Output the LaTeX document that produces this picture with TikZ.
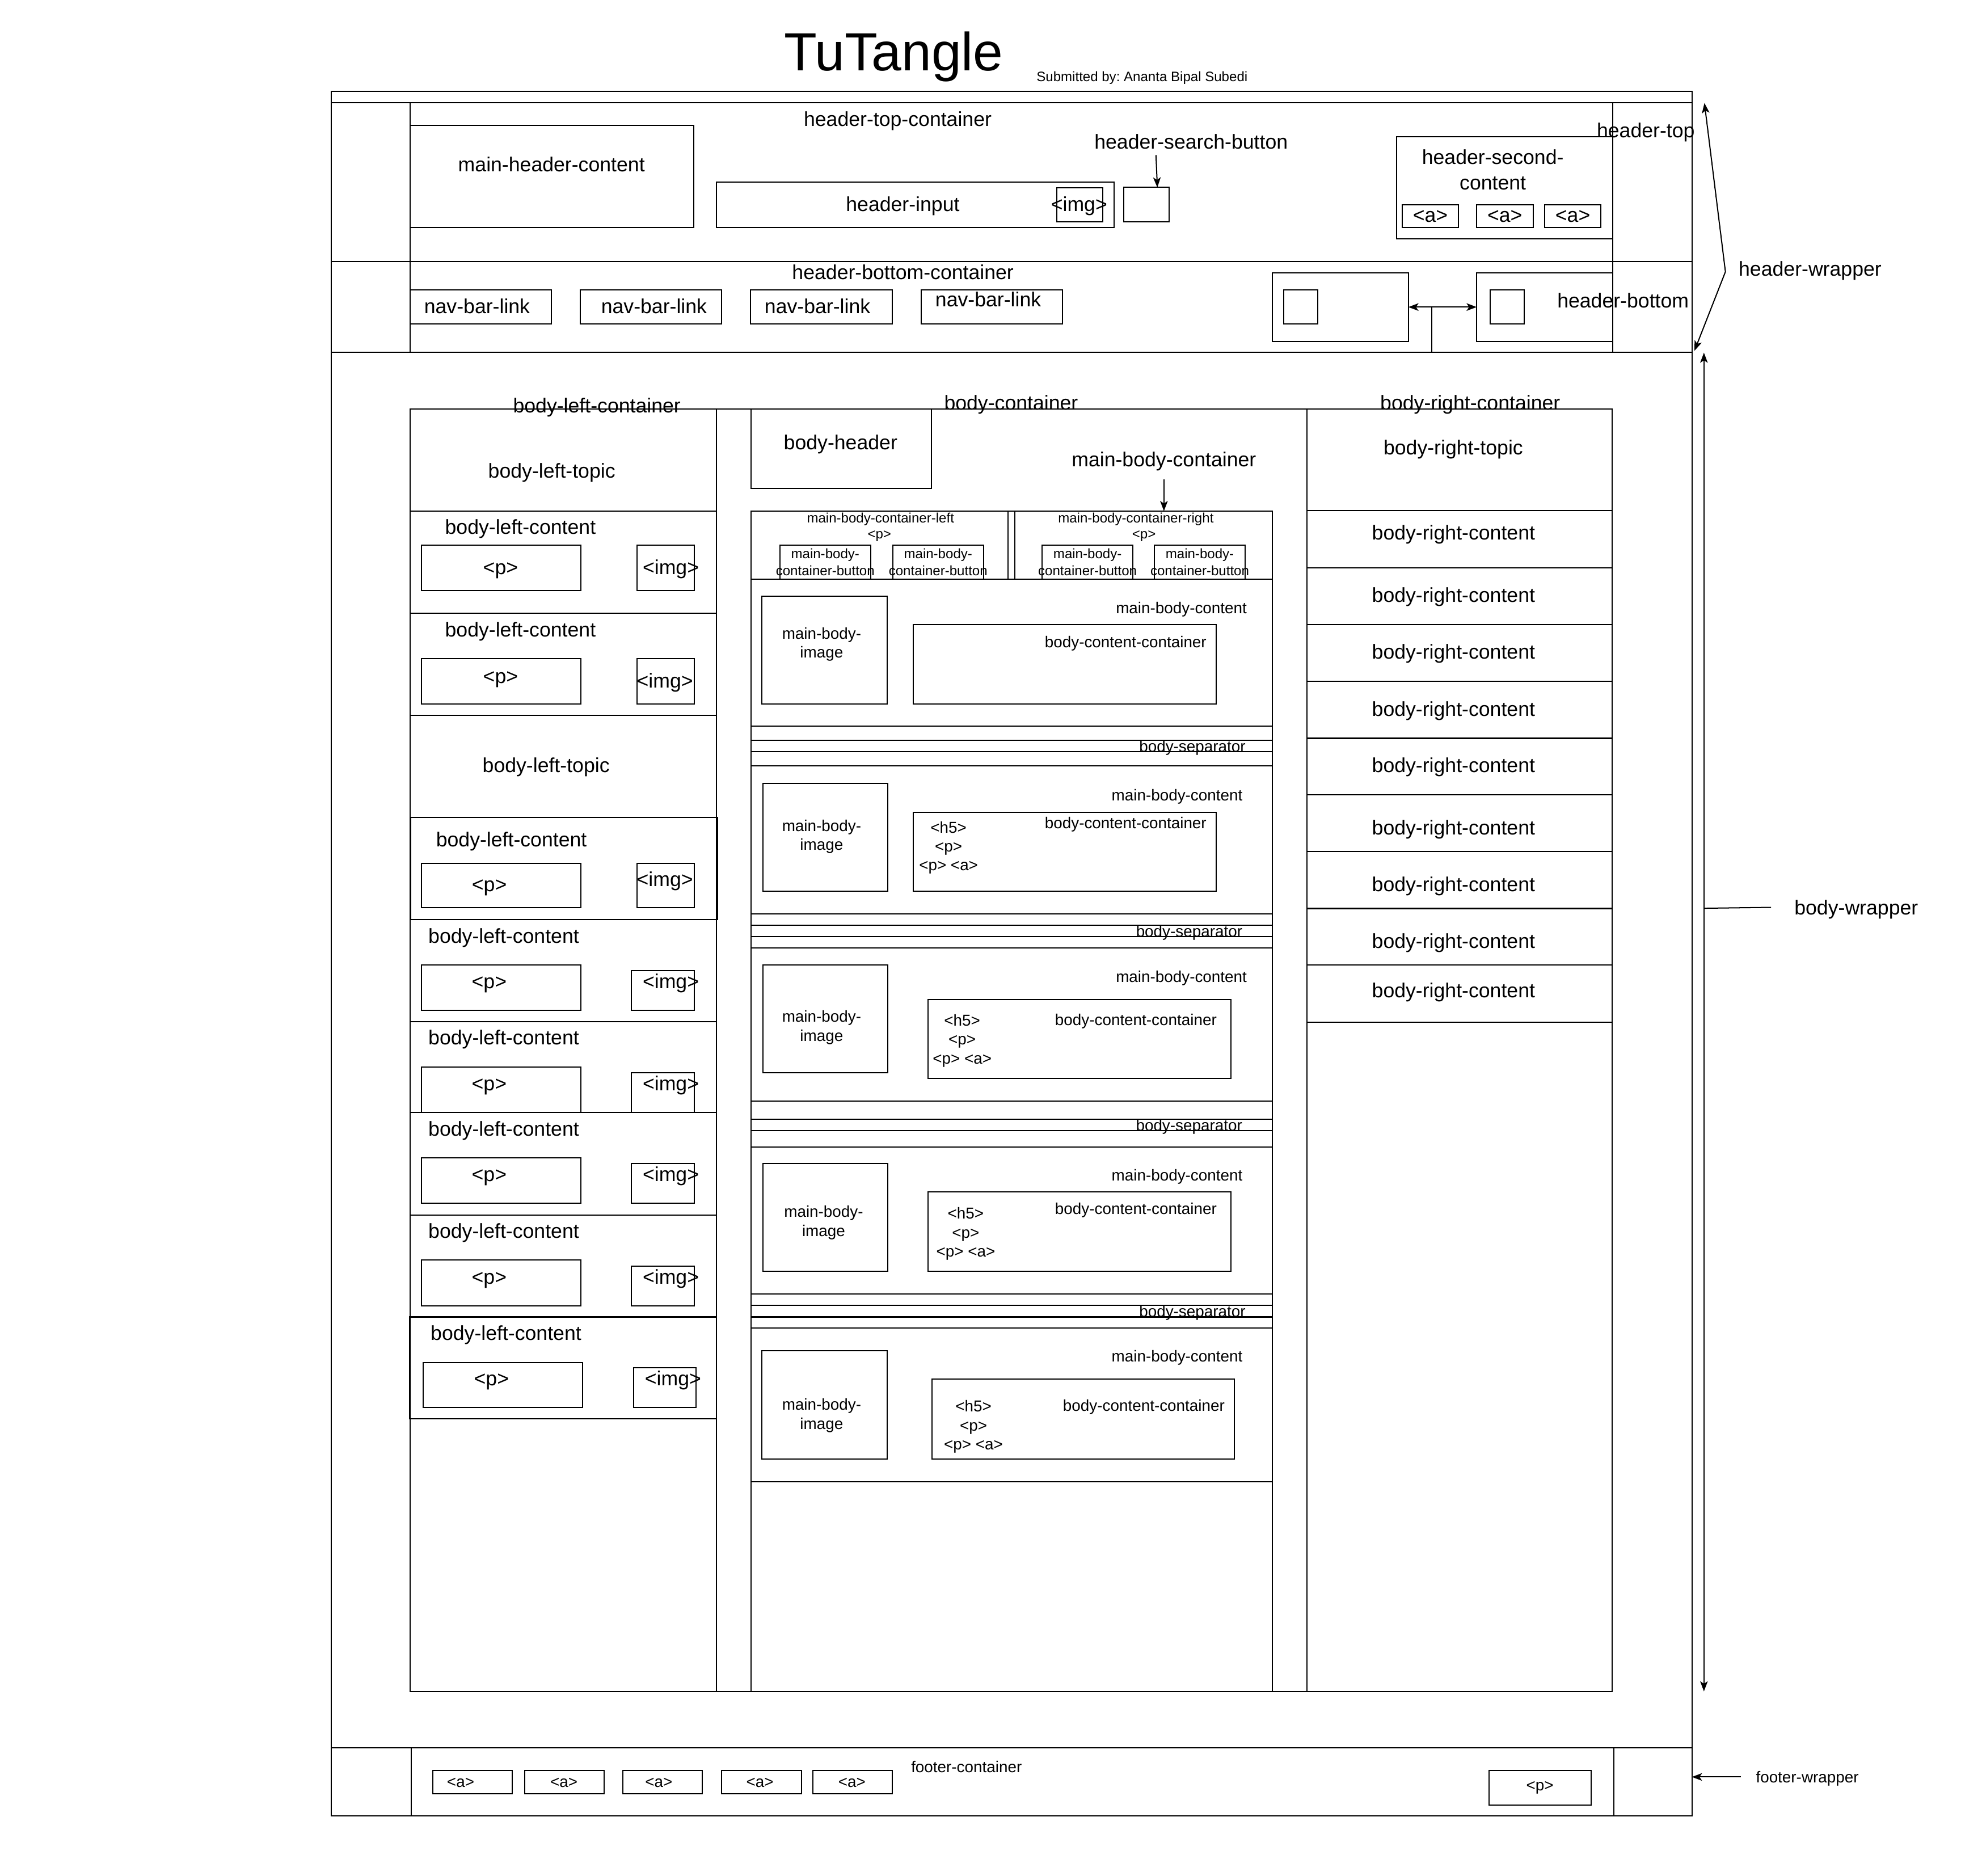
\documentclass[tikz,border=0pt]{standalone}
\usepackage{fontspec}
\setmainfont{Liberation Sans}
\usetikzlibrary{arrows.meta,calc}
\frenchspacing

\begin{document}
\begin{tikzpicture}[x=1pt, y=-1pt, line width=0.9pt,
  box/.style={draw, inner sep=0pt, outer sep=0pt, anchor=north west},
  sz/.style 2 args={minimum width=#1pt, minimum height=#2pt},
  fbig/.style={font=\fontsize{16}{19}\selectfont},
  fmid/.style={font=\fontsize{12.5}{15}\selectfont},
  fsml/.style={font=\fontsize{10.8}{13.5}\selectfont},
  lbig/.style={fbig, inner sep=0pt, text height=14.7pt, text depth=3.4pt},
  lmid/.style={fmid, inner sep=0pt, text height=12.1pt, text depth=2.6pt},
  lsml/.style={fsml, inner sep=0pt, text height=9.9pt, text depth=2.3pt},
  blk/.style={inner sep=0pt, align=center, anchor=north},
  arr/.style={-{Stealth[length=8pt, width=6pt, inset=2pt]}},
  arrs/.style={{Stealth[length=8pt, width=6pt, inset=2pt]}-{Stealth[length=8pt, width=6pt, inset=2pt]}}]
  \useasboundingbox (0,0) rectangle (1568,1484);

  \node[font=\fontsize{42.5}{50}\selectfont, inner sep=0pt, anchor=base] (title) at (707,56) {TuTangle};
  \node[fsml, inner sep=0pt, anchor=base west] (author) at (819.6,64.4) {Submitted by: Ananta Bipal Subedi};

  \node[box, sz={1076.5}{206.5}] (hwrap) at (262,72.1) {};
  \node[box, sz={1076.5}{125.7}] (htop) at (262,81.1) {};
  \node[box, sz={951.5}{125.7}] (htopc) at (324.5,81.1) {};
  \node[lbig] (htopT) at (1302,103) {header-top};
  \node[lbig] (htopcT) at (710.2,94.2) {header-top-container};
  \node[box, sz={224.4}{80.9}] (mhc) at (324.5,99) {};
  \node[lbig] (mhcT) at (436.3,130.2) {main-header-content};
  \node[box, sz={314.3}{36}] (hin) at (566.9,143.9) {};
  \node[lbig] (hinT) at (714.2,161.6) {header-input};
  \node[box, sz={36}{27}] (himg) at (836.2,148.4) {};
  \node[lbig] (himgT) at (853.7,161.6) {<img>};
  \node[box, sz={36.2}{27.2}] (hsb) at (888.8,148.3) {};
  \node[lbig] (hsbT) at (942.3,112.2) {header-search-button};
  \draw[arr] ([xshift=-27.8pt, yshift=-1pt]hsbT.south) -- ([xshift=8.7pt]hsb.north);
  \node[box, sz={171}{81}] (hsc) at (1105,108) {};
  \node[lbig] (hscT1) at (1181,124.2) {header-second-};
  \node[lbig] (hscT2) at (1181,144.5) {content};
  \foreach \x [count=\i] in {1109.2, 1168.1, 1221.9}
    \node[box, sz={44.7}{18}, fbig] (ha\i) at (\x,162) {<a>};

  \node[box, sz={1076.5}{71.7}] (hbot) at (262,206.8) {};
  \node[box, sz={951.5}{71.7}] (hbotc) at (324.5,206.8) {};
  \node[lbig] (hbotcT) at (714.3,215.5) {header-bottom-container};
  \node[lbig] (hbotT) at (1284,238) {header-bottom};
  \foreach \x/\lx/\ly [count=\i] in {324.6/377.4/242.4, 459.2/517.4/242.4, 593.9/646.7/242.4, 728.6/781.8/236.7}{
    \node[box, sz={111.8}{27}] (nav\i) at (\x,229.2) {};
    \node[lbig] (navT\i) at (\lx,\ly) {nav-bar-link};
  }
  \node[box, sz={107.5}{54.2}] (hbl) at (1006.7,215.8) {};
  \node[box, sz={26.9}{27.2}] (hbli) at (1015.5,229.1) {};
  \node[box, sz={107.8}{54.2}] (hbr) at (1168.2,215.8) {};
  \node[box, sz={27}{27.2}] (hbri) at (1179,229.1) {};
  \draw[arrs] (hbl.east) -- (hbr.west);
  \coordinate (hbj) at ($(hbl.east)!0.34!(hbr.west)$);
  \draw (hbj) -- (hbj |- hbot.south);

  \node[lbig] (hwrapT) at (1432,212.5) {header-wrapper};
  \coordinate (hwv) at (1365,215);
  \coordinate (hwa) at (1348.4,81.5);
  \coordinate (hwb) at (1340.5,277.5);
  \draw[arrs] (hwa) -- (hwv) -- (hwb);

  \node[box, sz={1076.5}{1104.2}] (bwrap) at (262,278.6) {};
  \node[box, sz={242.7}{1014.6}] (bleft) at (324.3,323.4) {};
  \node[box, sz={466.8}{1014.6}] (bcon) at (567,323.4) {};
  \node[box, sz={241.7}{1014.6}] (bright) at (1033.8,323.4) {};
  \node[lbig] (bleftT) at (472.2,320.9) {body-left-container};
  \node[lbig] (bconT) at (799.9,318.6) {body-container};
  \node[lbig] (brightT) at (1163.1,318.4) {body-right-container};

  \node[box, sz={242.7}{81}] (ltop1) at (324.3,323.4) {};
  \node[lbig] (ltopT1) at (436.5,372.5) {body-left-topic};
  \node[box, sz={242.7}{80.6}] (ltop2) at (324.3,565.9) {};
  \node[lbig] (ltopT2) at (432,605.4) {body-left-topic};

  \node[box, sz={242.7}{80.8}] (lrow1) at (324.3,404.4) {};
  \node[lbig] (lrowT1) at (411.7,417) {body-left-content};
  \node[box, sz={126.2}{35.8}] (lp1) at (333.3,431.3) {};
  \node[lbig] (lpT1) at (396,448.7) {<p>};
  \node[box, sz={45}{35.8}] (limg1) at (504.1,431.3) {};
  \node[lbig] (limgT1) at (530.7,448.7) {<img>};

  \node[box, sz={242.7}{80.7}] (lrow2) at (324.3,485.2) {};
  \node[lbig] (lrowT2) at (411.7,498) {body-left-content};
  \node[box, sz={126.2}{35.9}] (lp2) at (333.3,521) {};
  \node[lbig] (lpT2) at (396,534.7) {<p>};
  \node[box, sz={45}{35.9}] (limg2) at (504.1,521) {};
  \node[lbig] (limgT2) at (526,538.3) {<img>};

  \node[box, sz={242.7}{81}] (lrow3) at (324.8,646.5) {};
  \node[lbig] (lrowT3) at (404.6,664) {body-left-content};
  \node[box, sz={126.2}{35.3}] (lp3) at (333.3,682.8) {};
  \node[lbig] (lpT3) at (387.1,699.6) {<p>};
  \node[box, sz={45}{35.3}] (limg3) at (504.1,682.8) {};
  \node[lbig] (limgT3) at (526,695.6) {<img>};

  \foreach \y/\h [count=\i from 4] in {727.5/80.7, 808.2/71.9, 880.1/81, 961.1/80.7}{
    \node[box, sz={242.7}{\h}] (lrow\i) at (324.3,\y) {};
    \node[lbig] (lrowT\i) at (398.5,\y+12.7) {body-left-content};
    \node[box, sz={126.2}{36}] (lp\i) at (333.3,\y+35.8) {};
    \node[lbig] (lpT\i) at (387,\y+49) {<p>};
    \node[box, sz={49.5}{31.5}] (limg\i) at (499.6,\y+40.4) {};
    \node[lbig] (limgT\i) at (530.7,\y+49) {<img>};
  }

  \node[box, sz={242.7}{80.7}] (lrow8) at (324,1041.8) {};
  \node[lbig] (lrowT8) at (400.3,1054.6) {body-left-content};
  \node[box, sz={126.2}{35.5}] (lp8) at (334.7,1077.8) {};
  \node[lbig] (lpT8) at (388.8,1090.4) {<p>};
  \node[box, sz={49.5}{31.2}] (limg8) at (501.2,1082.1) {};
  \node[lbig] (limgT8) at (532.4,1090.4) {<img>};

  \node[box, sz={143}{63}] (bhead) at (594,323.4) {};
  \node[lbig] (bheadT) at (665,350) {body-header};
  \node[box, sz={412.7}{933.7}] (mbc) at (594,404.3) {};
  \node[lbig] (mbcT) at (920.8,363.5) {main-body-container};
  \draw[arr] ([yshift=-6pt]mbcT.south) -- (mbcT.south |- mbc.north);

  \node[box, sz={203.3}{54}] (mbcl) at (594,404.3) {};
  \node[box, sz={203.9}{54}] (mbcr) at (802.8,404.3) {};
  \node[lsml] (mbclT) at (696.6,409.9) {main-body-container-left};
  \node[lsml] (mbclP) at (695.7,422.2) {<p>};
  \node[lsml] (mbcrT) at (898.6,409.9) {main-body-container-right};
  \node[lsml] (mbcrP) at (905,422.2) {<p>};
  \foreach \x [count=\i] in {616.9, 706.2, 824.4, 913.2}{
    \node[box, sz={71.9}{27}] (mbb\i) at (\x,431.1) {};
    \node[blk, fsml] (mbbT\i) at ($(mbb\i.north)+(0,2.6)$) {main-body-\\container-button};
  }

  \node[box, sz={412.7}{116.2}] (mbct1) at (594,458.3) {};
  \node[lmid] (mbctT1) at (934.6,480.6) {main-body-content};
  \node[box, sz={99}{85.2}] (mbi1) at (602.7,471.7) {};
  \node[blk, fmid] (mbiT1) at (650,495.8) {main-body-\\image};
  \node[box, sz={239.7}{62.9}] (bcc1) at (722.5,494) {};
  \node[lmid] (bccT1) at (890.5,507.5) {body-content-container};

  \foreach \y/\h/\lx [count=\i] in {585.7/8.8/943.3, 732/8.8/940.8, 885.5/8.8/940.7, 1032.6/9.2/943.3}{
    \node[box, sz={412.7}{\h}] (bsep\i) at (594,\y) {};
    \node[lmid] (bsepT\i) at (\lx,\y+\h/2) {body-separator};
  }

  \node[box, sz={412.7}{117}] (mbct2) at (594,605.8) {};
  \node[lmid] (mbctT2) at (931.2,628.6) {main-body-content};
  \node[box, sz={98.7}{85}] (mbi2) at (603.8,619.8) {};
  \node[blk, fmid] (mbiT2) at (650,648) {main-body-\\image};
  \node[box, sz={239.7}{62.2}] (bcc2) at (722.5,642.6) {};
  \node[lmid] (bccT2) at (890.5,650.6) {body-content-container};
  \node[blk, fmid] (bccH2) at (750.4,649.3) {<h5>\\<p>\\<p> <a>};

  \node[box, sz={412.7}{121.1}] (mbct3) at (594,750) {};
  \node[lmid] (mbctT3) at (934.6,772.1) {main-body-content};
  \node[box, sz={98.7}{85.3}] (mbi3) at (603.8,763.3) {};
  \node[blk, fmid] (mbiT3) at (650,799.1) {main-body-\\image};
  \node[box, sz={240}{62.5}] (bcc3) at (734,790.5) {};
  \node[lmid] (bccT3) at (898.6,806.2) {body-content-container};
  \node[blk, fmid] (bccH3) at (761.2,802) {<h5>\\<p>\\<p> <a>};

  \node[box, sz={412.7}{116.6}] (mbct4) at (594,907.2) {};
  \node[lmid] (mbctT4) at (931.2,929.2) {main-body-content};
  \node[box, sz={98.7}{85.4}] (mbi4) at (603.8,920.4) {};
  \node[blk, fmid] (mbiT4) at (651.6,953.4) {main-body-\\image};
  \node[box, sz={240}{63}] (bcc4) at (734,942.8) {};
  \node[lmid] (bccT4) at (898.6,956) {body-content-container};
  \node[blk, fmid] (bccH4) at (764,954.7) {<h5>\\<p>\\<p> <a>};

  \node[box, sz={412.7}{121.4}] (mbct5) at (594,1050.7) {};
  \node[lmid] (mbctT5) at (931.2,1072.7) {main-body-content};
  \node[box, sz={99}{85.3}] (mbi5) at (602.7,1068.7) {};
  \node[blk, fmid] (mbiT5) at (650,1106.1) {main-body-\\image};
  \node[box, sz={239.3}{62.9}] (bcc5) at (737.4,1091.1) {};
  \node[lmid] (bccT5) at (904.9,1111.6) {body-content-container};
  \node[blk, fmid] (bccH5) at (770.1,1107.4) {<h5>\\<p>\\<p> <a>};

  \node[box, sz={241.7}{80.6}] (rtop) at (1033.8,323.4) {};
  \node[lbig] (rtopT) at (1149.7,354.2) {body-right-topic};
  \foreach \y/\ly [count=\i] in {404/421.5, 449.1/470.6, 494.1/515.7, 539.1/560.7, 583.8/605.4, 628.8/654.9, 673.8/699.5, 718.5/744.6, 763.5/783.3}{
    \node[box, sz={241.7}{45}] (rrow\i) at (1033.8,\y) {};
    \node[lbig] (rrowT\i) at (1149.9,\ly) {body-right-content};
  }

  \coordinate (bwa) at (1348,279);
  \coordinate (bwb) at (1348,1338);
  \coordinate (bwm) at (1348,718.5);
  \draw[arrs] (bwa) -- (bwb);
  \node[lbig] (bwrapT) at (1468.5,717.8) {body-wrapper};
  \draw (bwm) -- ([xshift=-18pt]bwrapT.west);

  \node[box, sz={1076.5}{53.9}] (fwrap) at (262,1382.8) {};
  \node[box, sz={951.4}{53.9}] (fcon) at (325.2,1382.8) {};
  \node[lmid] (fconT) at (764.6,1397.4) {footer-container};
  \foreach \x/\lx [count=\i] in {342.4/364.4, 415/446.1, 492.6/521.2, 571/601.2, 642.9/674}{
    \node[box, sz={62.9}{18.2}] (fa\i) at (\x,1400.7) {};
    \node[fmid, inner sep=0pt] (faT\i) at (\lx,1410.2) {<a>};
  }
  \node[box, sz={80.9}{27.1}, fmid] (fp) at (1177.8,1400.7) {<p>};
  \node[lmid] (fwrapT) at (1429.8,1405.7) {footer-wrapper};
  \draw[arr] ([xshift=-11.5pt]fwrapT.west) -- (fwrapT.west -| fwrap.east);
\end{tikzpicture}
\end{document}
